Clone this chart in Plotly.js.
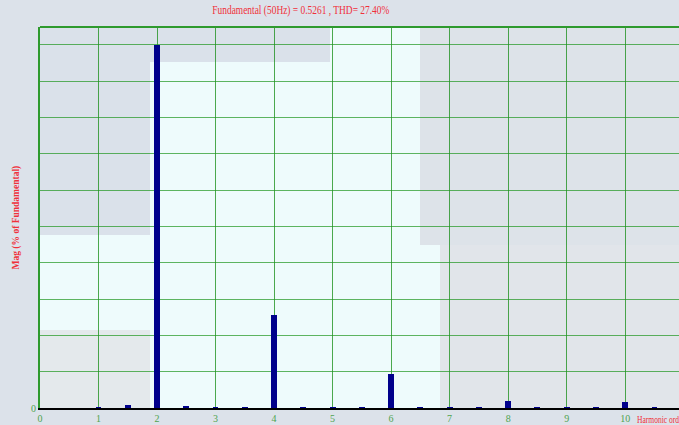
<!DOCTYPE html>
<html>
<head>
<meta charset="utf-8">
<script src="https://cdn.plot.ly/plotly-3.0.1.min.js"></script>
<style>html,body{margin:0;padding:0;background:#dce2ea;}#chart{width:679px;height:425px;}</style>
</head>
<body>
<div id="chart"></div>
<script>
// Harmonic order (x) and magnitude in % of fundamental (y)
const harmonicOrder = [1, 1.5, 2, 2.5, 3, 3.5, 4, 4.5, 5, 5.5, 6, 6.5, 7, 7.5, 8, 8.5, 9, 9.5, 10, 10.5];
const magnitudePct  = [0.35, 0.9, 100, 0.6, 0.3, 0.3, 25.7, 0.3, 0.3, 0.3, 9.4, 0.3, 0.3, 0.3, 1.9, 0.3, 0.3, 0.3, 1.7, 0.3];
const xTickVals = [0, 1, 2, 3, 4, 5, 6, 7, 8, 9, 10];
const xTickText = ["0", "1", "2", "3", "4", "5", "6", "7", "8", "9", "10"];
const yTickVals = [0, 10, 20, 30, 40, 50, 60, 70, 80, 90, 100];
const yTickText = ["0", "", "", "", "", "", "", "", "", "", ""];
const titleText = "Fundamental (50Hz) = 0.5261 , THD= 27.40%";
const yTitleText = "Mag (% of Fundamental)";
const xTitleText = "Harmonic order";

const red = "#f0303a";
const green = "#2e9a2e";
const serif = "Liberation Serif, Times New Roman, serif";

// soft background patches (paper fractions of the plot area)
function patch(px0, px1, py0, py1, color) {
  return {type: "rect", layer: "below", xref: "paper", yref: "paper",
    x0: (px0 - 40) / 639, x1: (px1 - 40) / 639, y0: (408 - py1) / 381, y1: (408 - py0) / 381,
    fillcolor: color, line: {width: 0}};
}

const trace = {
  type: "bar",
  x: harmonicOrder,
  y: magnitudePct,
  width: 0.1,
  marker: {color: "#00008b", line: {width: 0}},
  hoverinfo: "x+y"
};

const layout = {
  width: 679, height: 425,
  margin: {l: 40, r: 0, t: 27, b: 17, pad: 0},
  paper_bgcolor: "#dce2ea",
  plot_bgcolor: "#eefbfc",
  showlegend: false,
  bargap: 0,
  title: {text: titleText, font: {family: serif, size: 11.5, color: red}, x: 0.443, xanchor: "center", y: 0.985, yanchor: "top"},
  xaxis: {
    range: [0, 10.92],
    tickvals: xTickVals, ticktext: xTickText,
    tickfont: {family: serif, size: 10, color: "#4fa24f"},
    showgrid: true, gridcolor: "rgba(20,140,20,0.75)", gridwidth: 1,
    showline: true, linecolor: "#000000", linewidth: 1.5,
    ticks: "", zeroline: false, fixedrange: true
  },
  yaxis: {
    range: [0, 104.9],
    tickvals: yTickVals, ticktext: yTickText,
    tickfont: {family: serif, size: 10, color: "#4fa24f"},
    showgrid: true, gridcolor: "rgba(30,150,30,0.7)", gridwidth: 1,
    showline: true, linecolor: green, linewidth: 2,
    ticks: "", zeroline: false, fixedrange: true
  },
  shapes: [
    patch(40, 150, 27, 235, "#dae1ea"),
    patch(150, 330, 27, 62, "#dae1ea"),
    patch(420, 679, 27, 245, "#dde3e9"),
    patch(440, 679, 245, 408, "#e1e5ea"),
    patch(40, 150, 330, 408, "#e4e9ec"),
    {type: "line", xref: "paper", yref: "paper", x0: 0, x1: 1, y0: 1, y1: 1, line: {color: green, width: 2}}
  ],
  annotations: [
    {text: yTitleText, xref: "paper", yref: "paper", x: -0.036, y: 0.5, textangle: -90,
     showarrow: false, xanchor: "center", yanchor: "middle",
     font: {family: serif, size: 9.5, color: red, weight: "bold"}},
    {text: xTitleText, xref: "paper", yref: "paper", x: (635 - 40) / 639, y: -0.029, xanchor: "left", yanchor: "middle",
     showarrow: false, font: {family: serif, size: 10.5, color: red}}
  ]
};

function condense(el, k, anchorLeft) {
  if (!el) return;
  const b = el.getBBox();
  const ax = anchorLeft ? b.x : b.x + b.width / 2;
  el.setAttribute("transform", "translate(" + ax + ",0) scale(" + k + ",1) translate(" + (-ax) + ",0)");
}

Plotly.newPlot("chart", [trace], layout, {displayModeBar: false, staticPlot: true}).then(function (gd) {
  // the reference texts are set in a condensed face: narrow them horizontally
  condense(gd.querySelector(".gtitle"), 0.82, false);
  const ann = gd.querySelectorAll(".annotation-text");
  if (ann.length > 1) condense(ann[1], 0.72, true);
});
</script>
</body>
</html>
